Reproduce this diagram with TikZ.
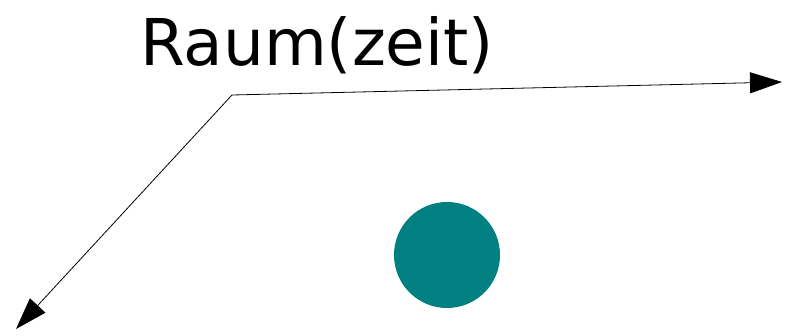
\documentclass[tikz,border=0pt]{standalone}
\usepackage{fontspec}
\setmainfont{DejaVu Sans}
\usetikzlibrary{arrows.meta}
\definecolor{teal}{RGB}{0,128,128}

\begin{document}
\begin{tikzpicture}[x=1pt,y=-1pt]
\tikzstyle{axis}=[draw=black,line width=0.8pt,-{Triangle[length=32pt,width=21pt]}]
\tikzstyle{particle}=[circle,fill=teal,minimum size=106pt,inner sep=0pt]
\tikzstyle{title}=[font=\fontsize{64.5pt}{68pt}\selectfont,inner sep=0pt,anchor=base]
\useasboundingbox (0,0) rectangle (786,335);
% axes from the origin
\coordinate (origin) at (232,95);
\coordinate (space) at (782,82);
\coordinate (time) at (16,329);
\draw [axis] (origin) -- (space);
\draw [axis] (origin) -- (time);
\node [title] (label) at (317,65) {Raum(zeit)};
\node [particle] (dot) at (447,255) {};
\end{tikzpicture}
\end{document}
